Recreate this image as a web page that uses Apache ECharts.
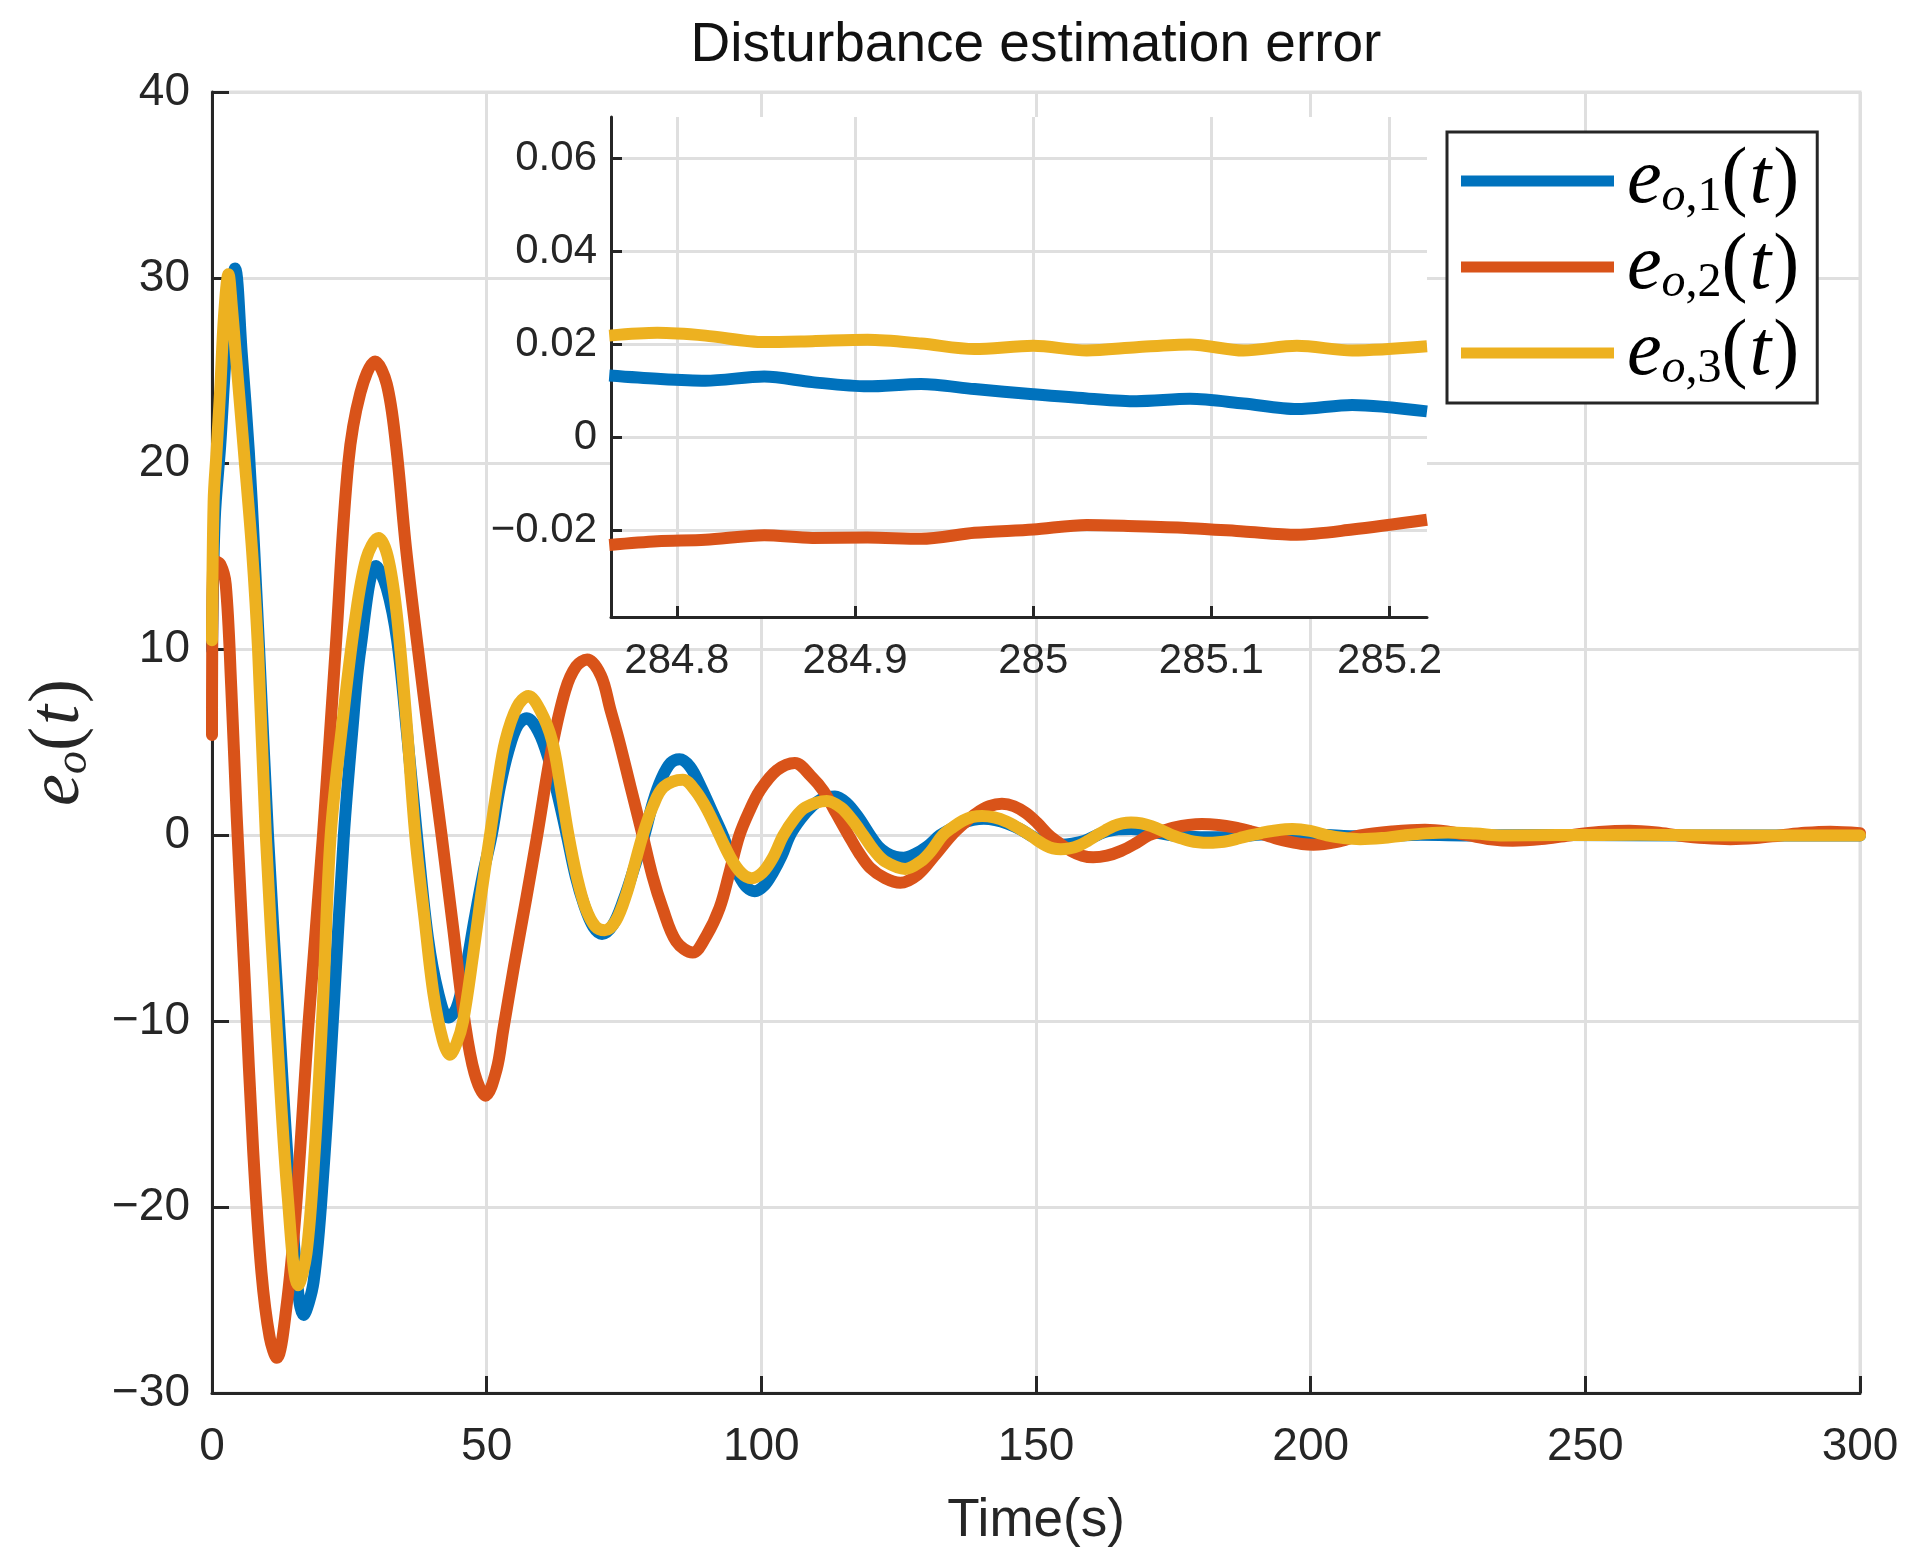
<!DOCTYPE html>
<html>
<head>
<meta charset="utf-8">
<script src="https://cdn.jsdelivr.net/npm/echarts@6/dist/echarts.min.js"></script>
<style>html,body{margin:0;padding:0;background:#fff}#c{width:1916px;height:1568px}</style>
</head>
<body>
<div id="c"></div>
<script>
// ---- main plot data (time in s, value) ----
const tBlue = [0,0.5,1.5,2.8,4.2,5.4,6.7,7.7,8.6,10.2,12.2,14.3,16.7,18.5,20.3,22.2,24,25.5,27,29.9,31.8,33.7,35.5,37.3,39.3,41.2,43,44.5,46,47.8,49.4,50.9,52.4,54,55.6,57.3,59.4,61.3,63,64.6,66.2,67.8,69.4,71,73,75,76.9,78.7,80.3,81.9,83.5,85.1,87,89,91,93,94.5,96,97.4,98.8,100.5,102.1,103.7,105.2,107.2,109.3,111.3,113.4,115.5,117.6,119.8,121.3,122.8,124.4,125.9,128,130.2,132.5,134.5,136.5,138.5,140.5,142.6,144.8,147,149,151,153,154.5,156.6,158.8,161,163,165,167.3,169.5,172,175,179,183,187,191,196,201,206,212,220,230,245,270,300];
const vBlue = [10,17,21,27,30.5,26,20.7,15.3,9.9,0,-10,-19.5,-25.8,-24,-18,-9,0,5.5,10,14.5,13.3,10.5,5.5,0,-5.5,-8.5,-9.8,-9.3,-7.5,-4.5,-2.0,0,2.6,4.6,5.9,6.3,5.6,4.1,2.1,0,-2.2,-3.8,-4.9,-5.3,-4.8,-3.4,-1.7,0,1.8,3.1,3.9,4.1,3.7,2.6,1.3,0,-1.2,-2.2,-2.8,-3.0,-2.7,-2.0,-1.1,0,0.9,1.6,2.0,2.1,1.75,1.0,0,-0.6,-0.95,-1.15,-1.2,-1.0,-0.6,0,0.35,0.64,0.83,0.9,0.83,0.64,0.35,0,-0.3,-0.45,-0.5,-0.45,-0.3,0,0.22,0.33,0.35,0.28,0.15,0,-0.08,-0.1,-0.05,0.05,0.12,0.05,-0.03,-0.05,0.03,0,0.02,0,0];

const tRed = [0,0.3,1.5,2.5,3.5,4.5,6,7.5,9,10.5,11.8,13.5,15.3,17.6,20.2,22.5,24.8,27,29.7,31.8,33.5,35.3,37.5,39.6,41.8,43.9,46,47.8,49.8,51.8,53,55,57.2,59.2,61.8,64.3,66.3,68.3,70.8,72.5,74.1,76.2,78.4,80.2,82,84.5,87.5,90,92.4,94.2,96,97.8,99.7,102.8,106.1,109,111.3,113.6,115.9,117.8,119.8,122.5,125.3,128.5,131.5,134.6,136.9,139.2,141.5,143.8,146,148.2,150.3,152.4,154.4,156.4,158.4,160.4,162.9,165.5,168,170.5,172.9,175.3,177.8,180.2,183.2,186.1,189,192,194,196.3,198.4,200.5,204.8,209,214.9,220.8,224.8,228.8,232.8,236.8,242,247,252.5,258,263,267,271.7,276.4,281,285.5,290,294.6,300];
const vRed = [5.4,14.8,14.6,13.5,8,1,-8,-17,-23.5,-27,-28.1,-25.5,-20,-10,0,10,20,23.8,25.5,24.3,21,15.5,10,5,0,-5,-10,-12.8,-14.0,-12.6,-10.5,-7,-3.4,0,4.6,7.8,9.1,9.46,8.6,6.8,5.1,2.6,0,-2.2,-3.9,-5.7,-6.3,-5.4,-3.9,-2,0,1.3,2.4,3.5,3.9,3.2,2.4,1.2,0,-0.95,-1.74,-2.3,-2.55,-2.1,-1.1,0,0.65,1.2,1.57,1.7,1.57,1.2,0.65,0,-0.45,-0.83,-1.09,-1.18,-1.09,-0.83,-0.45,0,0.23,0.43,0.56,0.61,0.56,0.43,0.23,0,-0.19,-0.35,-0.46,-0.5,-0.35,0,0.21,0.3,0.21,0,-0.21,-0.29,-0.2,0,0.18,0.25,0.16,0,-0.14,-0.2,-0.14,0,0.14,0.2,0.12];

const tYellow = [0,0.3,0.8,1.5,2.2,3.0,3.6,4.3,5.8,7.3,8.4,9.8,11.8,13.8,15.7,17.2,18.7,20.2,21.6,23.8,26,28.1,30.3,32,33.6,35.3,37,38.7,40.3,42,43.3,44.5,45.7,47.5,49,50.6,52,53.4,55.5,57.6,59.8,61.9,63.4,64.9,66.4,68,69.8,71.5,73.5,75.5,77,78.4,80.3,82.2,85.7,88,90.3,92.4,94.4,96.3,98.2,100.2,102.1,104,106,108,111.9,114.5,116.5,118.6,120.5,122.5,126.2,129,131,133,134.9,136.7,138.5,140.2,142.4,144.6,146.8,149,150.4,151.8,153.1,154.5,156.1,157.8,159.4,161,162.6,164.1,165.7,167.3,169.2,171,172.9,174.8,176.4,178,179.6,181.2,183.2,185.1,187,189,191,193,196.7,199.9,203,206,209,213,217,221,225,230,235,245,260,280,300];
const vYellow = [10.5,18,20.5,24,28,30.2,28.5,26,20.7,15.3,9.9,0,-10.5,-19.5,-24.2,-22.5,-17,-9,0,6.2,11.5,14.9,16.0,15,12,6.5,0,-4.5,-8.5,-11,-11.8,-11.2,-10,-6.5,-3.2,0,2.8,5.1,6.9,7.5,6.7,5.1,2.7,0,-2.2,-3.9,-4.9,-5.1,-4.6,-3.1,-1.5,0,1.6,2.6,3.0,2.4,1.3,0,-1.2,-2.0,-2.3,-2.0,-1.2,0,0.9,1.5,1.85,1.5,0.85,0,-0.8,-1.4,-1.8,-1.4,-0.8,0,0.45,0.8,1.0,1.05,0.97,0.75,0.4,0,-0.3,-0.55,-0.7,-0.75,-0.7,-0.55,-0.3,0,0.27,0.5,0.65,0.7,0.65,0.5,0.27,0,-0.15,-0.29,-0.37,-0.4,-0.37,-0.29,-0.15,0,0.13,0.24,0.34,0.24,0,-0.14,-0.2,-0.14,0,0.11,0.16,0.1,0,0.02,0.03,0,0];

// ---- inset data ----
const tInset = [284.762,284.789,284.816,284.849,284.876,284.907,284.937,284.967,285.0,285.03,285.058,285.088,285.118,285.148,285.179,285.221];
const vInsetBlue = [0.0132,0.0125,0.0121,0.0130,0.0118,0.0109,0.0114,0.0103,0.0092,0.0083,0.0077,0.0082,0.0072,0.0060,0.0069,0.0055];
const vInsetRed = [-0.0232,-0.0224,-0.0221,-0.0211,-0.0217,-0.0216,-0.0219,-0.0206,-0.0199,-0.0189,-0.0192,-0.0196,-0.0203,-0.0210,-0.0199,-0.0178];
const vInsetYellow = [0.0218,0.0224,0.0218,0.0204,0.0206,0.0209,0.0201,0.0189,0.0196,0.0186,0.0193,0.0199,0.0186,0.0196,0.0186,0.0195];

const xTicksInset = [284.8,284.9,285.0,285.1,285.2];
const yTicksInset = [-0.02,0,0.02,0.04,0.06];
const seriesNames = ['e1','e2','e3'];
const colors = ['#0072BD','#D95319','#EDB120'];

const zip = (t, v) => t.map((x, i) => [x, v[i]]);
const minus = v => (v < 0 ? '\u2212' + String(Math.abs(v)) : String(v));
const fmtInset = v => minus(Number((Math.round(v * 1000) / 1000).toFixed(3)));

const AX = '#262626', GR = '#dfdfdf';
const sans = 'Liberation Sans, Arial, Helvetica, sans-serif';
const serif = 'Liberation Serif, Times New Roman, serif';

const legendRich = {
  e: {fontFamily: serif, fontStyle: 'italic', fontSize: 78, lineHeight: 80, color: '#000', padding: [0,0,0,8]},
  s: {fontFamily: serif, fontStyle: 'italic', fontSize: 48, lineHeight: 38, verticalAlign: 'bottom', color: '#000'},
  n: {fontFamily: serif, fontSize: 48, lineHeight: 38, verticalAlign: 'bottom', color: '#000'},
  p: {fontFamily: serif, fontSize: 78, lineHeight: 80, color: '#000'},
  t: {fontFamily: serif, fontStyle: 'italic', fontSize: 78, lineHeight: 80, color: '#000', padding: [0,2,0,2]}
};

const chart = echarts.init(document.getElementById('c'));
const mainLine = (i, t, v) => ({
  name: seriesNames[i], type: 'line', xAxisIndex: 0, yAxisIndex: 0,
  data: zip(t, v), smooth: 0.35, showSymbol: false, z: 2 + i,
  lineStyle: {color: colors[i], width: 12, cap: 'round', join: 'round'},
  itemStyle: {color: colors[i]}
});
const insetLine = (i, v) => ({
  name: seriesNames[i], type: 'line', xAxisIndex: 1, yAxisIndex: 1,
  data: zip(tInset, v), smooth: 0.3, showSymbol: false, z: 12 + i,
  lineStyle: {color: colors[i], width: 12, cap: 'butt', join: 'round'},
  itemStyle: {color: colors[i]}
});

chart.setOption({
  animation: false,
  backgroundColor: '#fff',
  title: {
    text: 'Disturbance estimation error', left: 1036, textAlign: 'center', top: 18, padding: 0,
    textStyle: {fontFamily: sans, fontSize: 55, lineHeight: 56, fontWeight: 'normal', color: '#111'}
  },
  legend: {
    orient: 'vertical', left: 1447, top: 132, z: 30,
    padding: [10, 18, 10, 14], itemGap: 7, itemWidth: 153, itemHeight: 11,
    icon: 'rect', borderColor: AX, borderWidth: 3, backgroundColor: '#fff',
    data: seriesNames,
    formatter: n => '{e|e}{s|o}{n|,' + n.slice(1) + '}{p|(}{t|t}{p|)}',
    textStyle: {rich: legendRich}
  },
  grid: [
    {left: 212, top: 92, right: 56, bottom: 175, show: true, borderColor: GR, borderWidth: 3, z: 0},
    {left: 611, top: 117, width: 816, height: 500, show: true, backgroundColor: '#fff', borderWidth: 0, z: 10}
  ],
  xAxis: [
    {
      type: 'value', gridIndex: 0, min: 0, max: 300, interval: 50,
      axisLine: {show: true, onZero: false, lineStyle: {color: AX, width: 3}},
      axisTick: {show: true, inside: true, length: 17, lineStyle: {color: AX, width: 3}},
      axisLabel: {fontFamily: sans, fontSize: 46, color: AX, margin: 31},
      splitLine: {show: true, lineStyle: {color: GR, width: 3}},
      name: 'Time(s)', nameLocation: 'middle', nameGap: 128,
      nameTextStyle: {fontFamily: sans, fontSize: 53, color: AX, verticalAlign: 'middle'}
    },
    {
      type: 'value', gridIndex: 1, min: 284.763, max: 285.221, splitNumber: 5, z: 11,
      axisLine: {show: true, onZero: false, lineStyle: {color: AX, width: 3}},
      axisTick: {show: true, inside: true, length: 11, customValues: xTicksInset, lineStyle: {color: AX, width: 3}},
      axisLabel: {fontFamily: sans, fontSize: 42, color: AX, margin: 23,
                  customValues: xTicksInset, formatter: v => String(Number(v.toFixed(1)))},
      splitLine: {show: true, lineStyle: {color: GR, width: 3}}
    }
  ],
  yAxis: [
    {
      type: 'value', gridIndex: 0, min: -30, max: 40, interval: 10,
      axisLine: {show: true, onZero: false, lineStyle: {color: AX, width: 3}},
      axisTick: {show: true, inside: true, length: 17, lineStyle: {color: AX, width: 3}},
      axisLabel: {fontFamily: sans, fontSize: 46, color: AX, margin: 22, formatter: minus},
      splitLine: {show: true, lineStyle: {color: GR, width: 3}},
      name: '{e|e}{s|o}{p|(}{t|t}{p|)}', nameLocation: 'middle', nameGap: 153,
      nameTextStyle: {
        verticalAlign: 'middle',
        rich: {
          e: {fontFamily: serif, fontStyle: 'italic', fontSize: 72, lineHeight: 76, color: AX},
          s: {fontFamily: serif, fontStyle: 'italic', fontSize: 46, lineHeight: 36, verticalAlign: 'bottom', color: AX},
          p: {fontFamily: serif, fontSize: 72, lineHeight: 76, color: AX},
          t: {fontFamily: serif, fontStyle: 'italic', fontSize: 72, lineHeight: 76, color: AX, padding: [0,2,0,2]}
        }
      }
    },
    {
      type: 'value', gridIndex: 1, min: -0.0387, max: 0.0688, splitNumber: 5, z: 11,
      axisLine: {show: true, onZero: false, lineStyle: {color: AX, width: 3}},
      axisTick: {show: true, inside: true, length: 11, customValues: yTicksInset, lineStyle: {color: AX, width: 3}},
      axisLabel: {fontFamily: sans, fontSize: 42, color: AX, margin: 14,
                  customValues: yTicksInset, formatter: fmtInset},
      splitLine: {show: true, lineStyle: {color: GR, width: 3}}
    }
  ],
  series: [
    mainLine(0, tBlue, vBlue),
    mainLine(1, tRed, vRed),
    mainLine(2, tYellow, vYellow),
    insetLine(0, vInsetBlue),
    insetLine(1, vInsetRed),
    insetLine(2, vInsetYellow)
  ]
});
</script>
</body>
</html>
